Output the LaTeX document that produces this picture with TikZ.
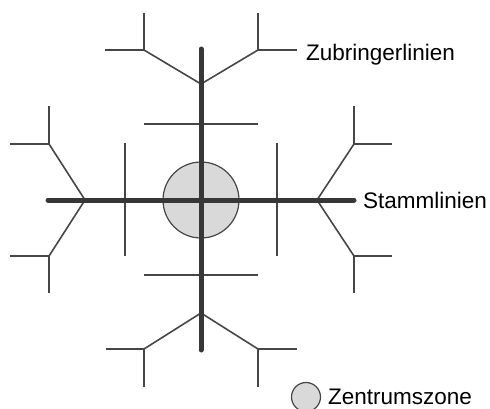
\documentclass[tikz,border=0pt]{standalone}
\usepackage{fontspec}
\setmainfont{Liberation Sans}
\usepackage{tikz}
\definecolor{LinieDunkel}{RGB}{55,55,55}
\definecolor{LinieDuenn}{RGB}{70,70,70}
\definecolor{ZoneFill}{RGB}{217,217,217}

\begin{document}
\begin{tikzpicture}[x=1pt,y=-1pt,
  stamm/.style={draw=LinieDunkel,line width=5pt,line cap=round},
  zubr/.style={draw=LinieDuenn,line width=1.6pt},
  zone/.style={circle,draw=LinieDuenn,fill=ZoneFill,line width=1.2pt,inner sep=0pt,minimum size=#1},
  lbl/.style={anchor=base west,inner sep=0pt,font=\fontsize{22.5}{27}\selectfont}]
\useasboundingbox (0,0) rectangle (490,408);
% Zentrumszone
\node[zone=76pt] (cz) at (201,200) {};
% Endpunkte der Stammlinien und Abzweige
\coordinate (n) at (201,49);  \coordinate (s) at (201,350);
\coordinate (w) at (48,200);  \coordinate (e) at (354,200);
\coordinate (jn) at (201,84); \coordinate (js) at (201,313);
\coordinate (jw) at (85,200); \coordinate (je) at (317,200);
\coordinate (nl) at (144,50); \coordinate (nr) at (258,50);
\coordinate (sl) at (144,349); \coordinate (sr) at (258,349);
\coordinate (wu) at (49,144); \coordinate (wd) at (49,256);
\coordinate (eu) at (354,144); \coordinate (ed) at (354,256);
% Zubringerlinien
\draw[zubr] (nl) -- (jn) -- (nr);
\draw[zubr] (sl) -- (js) -- (sr);
\draw[zubr] (wu) -- (jw) -- (wd);
\draw[zubr] (eu) -- (je) -- (ed);
\draw[zubr] (105,50) -- (nl) -- (144,13);
\draw[zubr] (297,50) -- (nr) -- (258,13);
\draw[zubr] (106,349) -- (sl) -- (144,387);
\draw[zubr] (297,349) -- (sr) -- (258,387);
\draw[zubr] (10,144) -- (wu) -- (49,106);
\draw[zubr] (10,256) -- (wd) -- (49,293);
\draw[zubr] (392,144) -- (eu) -- (354,106);
\draw[zubr] (392,256) -- (ed) -- (354,293);
\foreach \y in {124,275} {
  \draw[zubr] (144,\y) -- (258,\y);
}
\foreach \x in {125,277} {
  \draw[zubr] (\x,143) -- (\x,256);
}
% Stammlinien
\draw[stamm] (n) -- (s);
\draw[stamm] (w) -- (e);
% Beschriftung
\node[lbl] (zub) at (306,60) {Zubringerlinien};
\node[lbl] (sta) at (363,208) {Stammlinien};
\node[zone=29pt] (lz) at (306,397) {};
\node[lbl] (zen) at (328,404) {Zentrumszone};
\end{tikzpicture}
\end{document}
